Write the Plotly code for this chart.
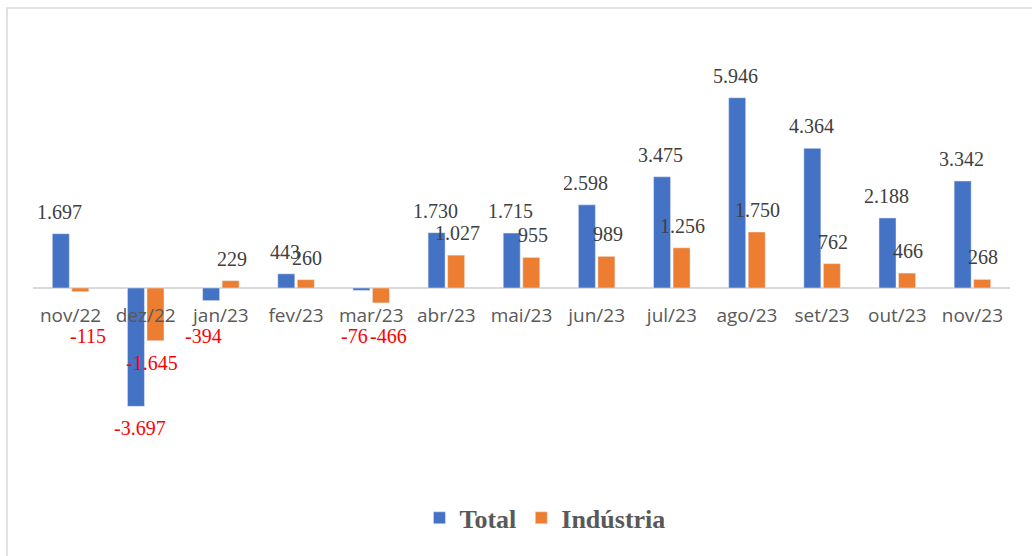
import plotly.graph_objects as go

months = ["nov/22", "dez/22", "jan/23", "fev/23", "mar/23", "abr/23", "mai/23",
          "jun/23", "jul/23", "ago/23", "set/23", "out/23", "nov/23"]
total = [1697, -3697, -394, 443, -76, 1730, 1715, 2598, 3475, 5946, 4364, 2188, 3342]
industria = [-115, -1645, 229, 260, -466, 1027, 955, 989, 1256, 1750, 762, 466, 268]

BLUE = "#4472C4"
ORANGE = "#ED7D31"
YMIN, YMAX = -5000, 8000
W, H = 1032, 556
ML, MR, MT, MB = 33, 22, 32, 108
plot_h = H - MT - MB
px_per_unit = plot_h / (YMAX - YMIN)
FLOOR = -1500


def fmt(v):
    return f"{v:,}".replace(",", ".")


fig = go.Figure()
fig.add_trace(go.Bar(name="Total", x=months, y=total, marker_color=BLUE))
fig.add_trace(go.Bar(name="Indústria", x=months, y=industria, marker_color=ORANGE))

annotations = []
for series, side in ((total, -1), (industria, 1)):
    for m, v in zip(months, series):
        if v >= 0:
            y, ys, col, xs = v, 22, "#404040", 11 * side
        else:
            y = min(v - 22 / px_per_unit, FLOOR)
            ys, col = 0, "#FF0000"
            xs = (17 if y == FLOOR else 6) * side
        annotations.append(dict(
            x=m, y=y, xref="x", yref="y", text=fmt(v), showarrow=False,
            xshift=xs, yshift=ys, yanchor="middle", xanchor="center",
            font=dict(family="Liberation Serif", size=20, color=col)))

# outer border of the chart area
pw = W - ML - MR
shapes = [dict(type="rect", xref="paper", yref="paper",
               x0=(7 - ML) / pw, x1=(1045 - ML) / pw,
               y0=(H - MB - 560) / plot_h, y1=(H - MB - 8) / plot_h,
               line=dict(color="#D9D9D9", width=1.5), fillcolor="rgba(0,0,0,0)",
               layer="below")]

fig.update_layout(
    width=W, height=H,
    margin=dict(l=ML, r=MR, t=MT, b=MB),
    paper_bgcolor="white", plot_bgcolor="white",
    barmode="group", bargap=0.48, bargroupgap=0.13,
    annotations=annotations, shapes=shapes,
    showlegend=True,
    legend=dict(orientation="h", x=0.524, xanchor="center", y=-0.168, yanchor="middle",
                font=dict(family="Liberation Serif", size=26, color="#595959", weight="bold"),
                itemwidth=30, bgcolor="rgba(0,0,0,0)"),
    xaxis=dict(anchor="free", position=(0 - YMIN) / (YMAX - YMIN), showline=False,
               ticks="", showgrid=False, ticklabelstandoff=14,
               tickfont=dict(family="Open Sans", size=19, color="#595959")),
    yaxis=dict(range=[YMIN, YMAX], showticklabels=False, showgrid=False,
               zeroline=True, zerolinecolor="#D9D9D9", zerolinewidth=1.5, ticks=""),
)

fig.write_html("out.html", config={"displayModeBar": False},
               post_script="document.body.style.margin='0';document.body.style.overflow='hidden';")
